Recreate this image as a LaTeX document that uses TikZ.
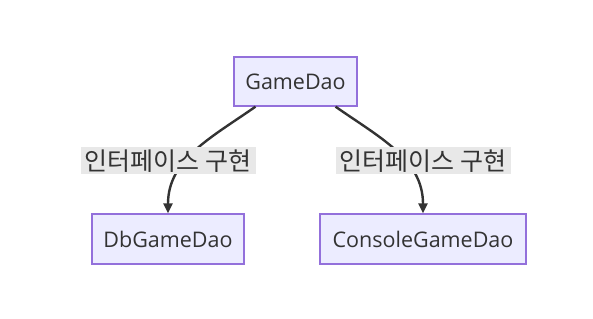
\documentclass[tikz,border=0pt]{standalone}
\usepackage{fontspec}
\setmainfont{Open Sans}
\newfontfamily\krfont{Noto Sans CJK KR}
\usetikzlibrary{arrows.meta,calc}
\definecolor{boxfill}{HTML}{ECECFF}
\definecolor{boxline}{HTML}{9370DB}
\definecolor{edgecol}{HTML}{333333}
\definecolor{lblbg}{HTML}{E8E8E8}
\tikzset{
  daobox/.style={draw=boxline, fill=boxfill, line width=1.3pt, inner sep=0pt,
    text=edgecol, font=\fontsize{21.5}{25}\selectfont},
  edgelbl/.style={fill=lblbg, inner sep=1pt, text=edgecol,
    font=\krfont\fontsize{25}{28}\selectfont, minimum width=175pt, minimum height=27pt},
  conn/.style={draw=edgecol, line width=2.4pt, -{Stealth[length=10pt,width=9pt,inset=0pt]}}
}
\begin{document}
\begin{tikzpicture}[x=1pt,y=1pt]
\useasboundingbox (0,0) rectangle (593,318);
\node[daobox, minimum width=123pt, minimum height=49pt] (g) at (295.5,236.5) {GameDao};
\node[daobox, minimum width=152pt, minimum height=50pt] (d) at (168,79) {DbGameDao};
\node[daobox, minimum width=206pt, minimum height=50pt] (c) at (423,79) {ConsoleGameDao};
\coordinate (gl) at ($(g.south)+(-40,0)$);
\coordinate (gr) at ($(g.south)+(40,0)$);
\draw[conn] (gl) to[out=-145,in=90] (d.north);
\draw[conn] (gr) to[out=-35,in=90] (c.north);
\node[edgelbl] (l1) at (168,157) {인터페이스 구현};
\node[edgelbl] (l2) at (423,157) {인터페이스 구현};
\end{tikzpicture}
\end{document}
